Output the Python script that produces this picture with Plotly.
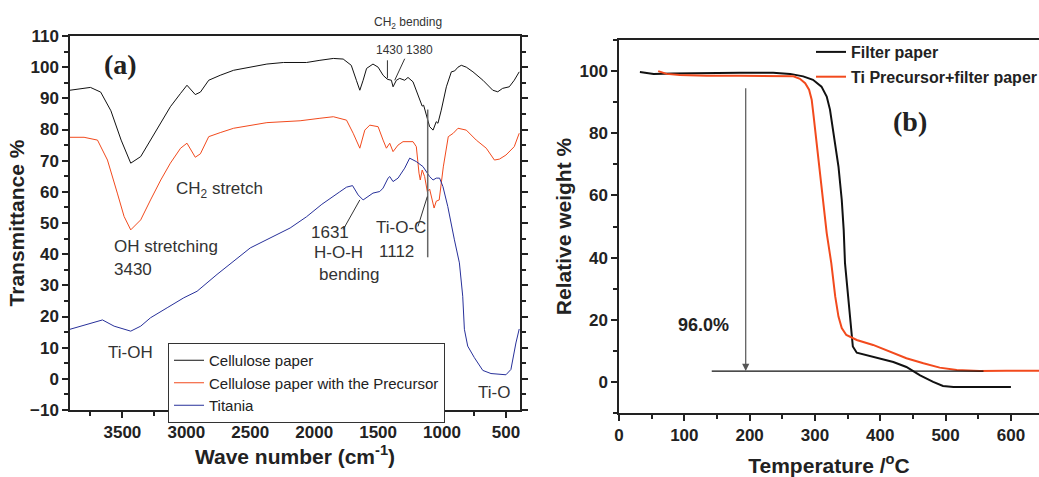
import plotly.graph_objects as go

# ---------------- (a) FTIR data ----------------
cell_wn = [3910, 3750, 3670, 3590, 3510, 3435, 3357, 3280, 3200, 3125, 3045, 2995, 2930, 2890,
           2825, 2735, 2630, 2500, 2370, 2240, 2060, 1955, 1850, 1773, 1710, 1670, 1643, 1617,
           1590, 1540, 1500, 1461, 1427, 1396, 1383, 1357, 1331, 1292, 1266, 1227, 1188, 1170,
           1155, 1144, 1123, 1097, 1070, 1045, 1032, 1006, 966, 927, 901, 875, 849, 810, 758,
           680, 603, 564, 526, 474, 435, 396]
cell_t = [92.6, 93.5, 92.0, 86.0, 76.6, 69.2, 71.3, 76.6, 82.0, 87.3, 91.6, 94.2, 91.2, 92.0,
          95.8, 97.4, 99.0, 100.0, 101.0, 101.5, 101.5, 102.2, 102.8, 102.6, 100.6, 95.8, 92.6, 95.8,
          99.6, 101.0, 100.0, 97.4, 96.1, 95.8, 93.7, 95.8, 96.4, 95.8, 96.7, 95.3, 91.0, 88.9,
          87.5, 87.8, 84.6, 80.9, 79.8, 82.5, 82.0, 86.2, 93.7, 98.5, 98.8, 100.0, 100.6, 100.0, 98.5,
          95.8, 92.6, 92.1, 93.2, 93.7, 95.8, 98.5]

prec_wn = [3910, 3800, 3695, 3617, 3540, 3487, 3435, 3357, 3280, 3200, 3125, 3045, 2995, 2930,
           2890, 2825, 2735, 2630, 2370, 2110, 1955, 1850, 1747, 1695, 1643, 1604, 1565, 1500,
           1461, 1435, 1409, 1383, 1344, 1305, 1227, 1201, 1180, 1170, 1155, 1136, 1115, 1097,
           1062, 1045, 1022, 990, 951, 912, 875, 810, 732, 654, 590, 551, 500, 435, 396]
prec_t = [77.5, 77.5, 76.6, 70.2, 59.6, 52.1, 47.8, 51.0, 57.4, 63.8, 69.2, 74.0, 75.6, 71.1,
          72.2, 77.7, 79.0, 80.4, 82.2, 82.8, 83.6, 84.1, 83.0, 78.8, 74.0, 79.8, 81.4, 80.9,
          76.6, 74.0, 75.6, 72.9, 75.0, 76.1, 76.1, 74.5, 66.0, 63.8, 67.0, 64.9, 60.1, 60.9,
          54.8, 57.0, 57.4, 68.0, 77.7, 78.8, 80.4, 79.8, 76.6, 74.0, 70.2, 70.5, 71.8, 74.5, 78.8]

tio2_wn = [3910, 3773, 3656, 3565, 3435, 3357, 3280, 3150, 3020, 2916, 2760, 2500, 2318, 2188,
           2060, 1940, 1800, 1747, 1700, 1656, 1617, 1540, 1487, 1461, 1422, 1409, 1383, 1344,
           1292, 1253, 1201, 1149, 1097, 1070, 1045, 1019, 993, 955, 903, 864, 838, 825, 799,
           747, 681, 617, 500, 461, 422, 396]
tio2_t = [15.9, 17.5, 18.9, 16.9, 15.3, 16.9, 19.6, 22.8, 26.0, 28.1, 33.5, 42.0, 45.7, 48.4,
          52.0, 56.0, 60.0, 61.5, 62.0, 59.0, 57.4, 59.6, 60.1, 61.2, 64.4, 64.9, 63.3, 64.4,
          67.6, 70.8, 69.7, 68.1, 64.9, 63.8, 64.4, 64.4, 61.7, 55.3, 44.6, 37.2, 26.5, 15.9,
          10.5, 6.8, 2.7, 1.7, 1.3, 3.0, 11.5, 16.0]

# ---------------- (b) TGA data ----------------
fp_T = [32, 53, 83, 134, 185, 236, 262, 282, 297, 310, 318, 323, 328, 336, 341, 344, 346, 351,
        355, 358, 364, 379, 399, 420, 440, 461, 481, 496, 512, 542, 600]
fp_w = [99.7, 99.1, 99.2, 99.4, 99.5, 99.5, 99.1, 98.3, 97.2, 95.0, 91.8, 87.6, 80.0, 69.3, 58.6,
        48.9, 38.2, 27.5, 16.7, 11.4, 9.4, 8.6, 7.5, 6.4, 4.8, 2.1, 0.0, -1.3, -1.6, -1.6, -1.6]

tp_T = [60, 73, 93, 134, 185, 236, 267, 277, 285, 291, 295, 298, 302, 307, 313, 318, 325,
        331, 336, 341, 348, 364, 389, 415, 440, 466, 491, 517, 552, 593, 643]
tp_w = [100.0, 99.1, 98.7, 98.5, 98.5, 98.5, 98.3, 97.5, 96.1, 94.0, 90.8, 85.4, 77.9, 69.3, 58.6,
        47.9, 38.2, 27.5, 21.0, 17.3, 15.1, 13.5, 11.9, 9.7, 7.6, 6.0, 4.6, 3.8, 3.5, 3.6, 3.6]

# Guide / annotation lines
tio_c_line_x = [1112, 1112]
tio_c_line_y = [86.4, 39.0]
residue_x = [142, 558]
residue_y = [3.5, 3.5]
arrow_x = 194
arrow_y = [95.0, 3.5]

BLACK = "#111111"
RED = "#f24a1d"
BLUE = "#27309a"
FONT = "Liberation Sans"

fig = go.Figure()
fig.add_trace(go.Scatter(x=cell_wn, y=cell_t, mode="lines", name="Cellulose paper",
                         line=dict(color=BLACK, width=1), xaxis="x", yaxis="y", legend="legend"))
fig.add_trace(go.Scatter(x=prec_wn, y=prec_t, mode="lines", name="Cellulose paper with the Precursor",
                         line=dict(color=RED, width=1), xaxis="x", yaxis="y", legend="legend"))
fig.add_trace(go.Scatter(x=tio2_wn, y=tio2_t, mode="lines", name="Titania",
                         line=dict(color=BLUE, width=1), xaxis="x", yaxis="y", legend="legend"))

fig.add_trace(go.Scatter(x=fp_T, y=fp_w, mode="lines", name="Filter paper",
                         line=dict(color=BLACK, width=2), xaxis="x2", yaxis="y2",
                         legend="legend2", legendgroup="g1"))
fig.add_trace(go.Scatter(x=tp_T, y=tp_w, mode="lines", name="Ti Precursor+filter paper",
                         line=dict(color=RED, width=2), xaxis="x2", yaxis="y2",
                         legend="legend2", legendgroup="g2"))

# guide lines as traces on the data scales
fig.add_trace(go.Scatter(x=tio_c_line_x, y=tio_c_line_y, mode="lines", showlegend=False,
                         line=dict(color="#666666", width=1.5), xaxis="x", yaxis="y", hoverinfo="skip"))
fig.add_trace(go.Scatter(x=residue_x, y=residue_y, mode="lines", showlegend=False,
                         line=dict(color=BLACK, width=1.2), xaxis="x2", yaxis="y2", hoverinfo="skip"))

axis_common = dict(showline=True, linecolor="#222222", linewidth=1.5, ticks="outside",
                   ticklen=6, tickwidth=1.5, tickcolor="#222222", showgrid=False, zeroline=False,
                   automargin=False,
                   tickfont=dict(family=FONT, size=17, color="#222222", weight="bold"))

fig.update_layout(
    width=1039, height=477, margin=dict(l=0, r=0, t=0, b=0, autoexpand=False),
    paper_bgcolor="white", plot_bgcolor="white",
    xaxis=dict(domain=[70 / 1039, 520 / 1039], range=[3910, 390], anchor="y",
               dtick=500, tick0=0, mirror=True,
               minor=dict(dtick=250, ticks="outside", ticklen=4, tickcolor="#222222"),
               title=dict(text="Wave number (cm<sup>-1</sup>)", standoff=5,
                          font=dict(family=FONT, size=21, color="#222222", weight="bold")),
               **axis_common),
    yaxis=dict(domain=[1 - 410 / 477, 1 - 36 / 477], range=[-10, 110], anchor="x",
               dtick=10, mirror="ticks",
               minor=dict(dtick=5, ticks="outside", ticklen=4, tickcolor="#222222"),
               title=dict(text="Transmittance %", standoff=0,
                          font=dict(family=FONT, size=21, color="#222222", weight="bold")),
               **axis_common),
    xaxis3=dict(overlaying="x", matches="x", side="top", anchor="y", showline=False,
                ticks="inside", ticklen=5, tickwidth=1, tickcolor="#222222", dtick=500, tick0=0,
                showticklabels=False, showgrid=False, zeroline=False, automargin=False,
                minor=dict(dtick=250, ticks="inside", ticklen=3, tickcolor="#222222")),
    xaxis2=dict(domain=[619 / 1039, 1.0], range=[0, 643], anchor="y2",
                dtick=100, mirror=True,
                minor=dict(dtick=50, ticks="outside", ticklen=4, tickcolor="#222222"),
                title=dict(text="Temperature /<sup>o</sup>C", standoff=27,
                           font=dict(family=FONT, size=21, color="#222222", weight="bold")),
                **axis_common),
    yaxis2=dict(domain=[1 - 413 / 477, 1 - 40 / 477], range=[-10, 110], anchor="x2",
                dtick=20,
                minor=dict(dtick=10, ticks="outside", ticklen=4, tickcolor="#222222"),
                title=dict(text="Relative weight %", standoff=2,
                           font=dict(family=FONT, size=21, color="#222222", weight="bold")),
                **axis_common),
    xaxis4=dict(overlaying="x2", matches="x2", side="top", anchor="y2", showline=False,
                ticks="inside", ticklen=5, tickwidth=1, tickcolor="#222222", dtick=100,
                showticklabels=False, showgrid=False, zeroline=False, automargin=False,
                minor=dict(dtick=50, ticks="inside", ticklen=3, tickcolor="#222222")),
    legend=dict(x=168 / 1039, y=1 - 343 / 477, xanchor="left", yanchor="top",
                bgcolor="white", bordercolor="#333333", borderwidth=1,
                font=dict(family=FONT, size=15, color="#222222"), itemwidth=30,
                tracegroupgap=0),
    legend2=dict(x=811 / 1039, y=1 - 35 / 477, xanchor="left", yanchor="top",
                 bgcolor="rgba(0,0,0,0)", borderwidth=0, tracegroupgap=1,
                 font=dict(family=FONT, size=16, color="#222222", weight="bold"), itemwidth=30),
    showlegend=True,
)

ann_font = dict(family=FONT, size=17, color="#333333")
small_font = dict(family=FONT, size=12, color="#333333")
annotations = [
    dict(x=3513, y=101, text="<b>(a)</b>", font=dict(family="Liberation Serif", size=28, color="#222222")),
    dict(x=1292, y=105.6, text="1430 1380", font=small_font),
    dict(x=3100, y=60.6, text="CH<sub>2</sub> stretch", font=ann_font, xanchor="left"),
    dict(x=3583, y=42.5, text="OH stretching", font=ann_font, xanchor="left"),
    dict(x=3583, y=35.0, text="3430", font=ann_font, xanchor="left"),
    dict(x=1877, y=47.0, text="1631", font=ann_font),
    dict(x=1812, y=40.4, text="H-O-H", font=ann_font),
    dict(x=1720, y=33.5, text="bending", font=ann_font),
    dict(x=1318, y=48.4, text="Ti-O-C", font=ann_font),
    dict(x=1357, y=40.9, text="1112", font=ann_font),
    dict(x=3435, y=8.4, text="Ti-OH", font=ann_font),
    dict(x=590, y=-4.4, text="Ti-O", font=ann_font),
]
for a in annotations:
    fig.add_annotation(xref="x", yref="y", showarrow=False, **a)

# label above the frame (outside the y range, so placed in paper units)
fig.add_annotation(xref="x", yref="paper", x=1266, y=1 - 13 / 477, text="CH<sub>2</sub> bending",
                   showarrow=False, font=small_font)

# leader lines in (a)
leaders = [
    (1427, 102.2, 1427, 96.4),
    (1292, 102.7, 1370, 95.8),
    (1643, 57.4, 1773, 47.9),
    (1115, 58.5, 1188, 48.9),
]
for x0, y0, x1, y1 in leaders:
    fig.add_shape(type="line", xref="x", yref="y", x0=x0, y0=y0, x1=x1, y1=y1,
                  line=dict(color="#333333", width=1))

# (b) annotations
fig.add_annotation(xref="x2", yref="y2", x=445, y=83.8, text="<b>(b)</b>", showarrow=False,
                   font=dict(family="Liberation Serif", size=28, color="#222222"))
fig.add_annotation(xref="x2", yref="y2", x=129, y=18.3, text="96.0%", showarrow=False,
                   font=dict(family=FONT, size=18, color="#222222", weight="bold"))
fig.add_annotation(xref="x2", yref="y2", axref="x2", ayref="y2", x=arrow_x, y=arrow_y[1],
                   ax=arrow_x, ay=arrow_y[0], text="", showarrow=True, arrowhead=2,
                   arrowsize=1.2, arrowwidth=1.2, arrowcolor="#555555")

fig.write_html("out.html", config={"displayModeBar": False},
               post_script="document.body.style.margin='0';document.body.style.overflow='hidden';")
